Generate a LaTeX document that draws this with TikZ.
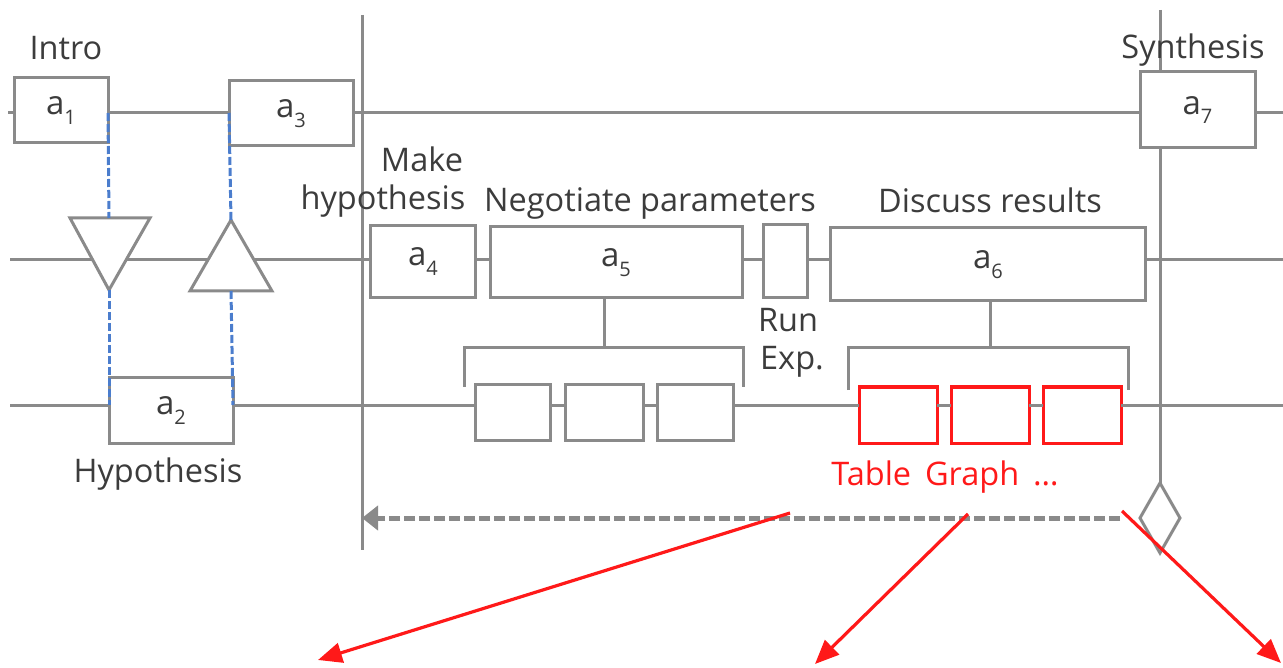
\documentclass[tikz,border=0pt]{standalone}
\usepackage{fontspec}
\setmainfont{Open Sans}
\usetikzlibrary{arrows.meta,shapes.geometric}
\definecolor{ln}{RGB}{138,138,138}
\definecolor{tx}{RGB}{60,60,60}
\definecolor{hl}{RGB}{255,25,25}
\definecolor{lk}{RGB}{75,125,205}
% activity label a_i
\newcommand\alab[1]{a\raisebox{-0.3em}{\fontsize{20}{20}\selectfont #1}}
\begin{document}
\begin{tikzpicture}[x=1pt,y=-1pt,
  every node/.style={inner sep=0pt, outer sep=0pt},
  line/.style={draw=ln, line width=3pt},
  wh/.style 2 args={minimum width=#1pt, minimum height=#2pt},
  box/.style={line, fill=white, text=tx, font=\fontsize{33}{33}\selectfont},
  redbox/.style={draw=hl, line width=3pt, fill=white},
  lbl/.style={anchor=base, text=tx, font=\fontsize{32.5}{32.5}\selectfont},
  link/.style={draw=lk, line width=3pt, dash pattern=on 8pt off 3pt},
  back/.style={draw=ln, line width=5pt, dash pattern=on 11pt off 4pt,
    -{Triangle[length=16pt,width=24pt]}},
  jump/.style={draw=hl, line width=3.2pt, -{Triangle[length=24pt,width=20pt]}},
]
\useasboundingbox (0,0) rectangle (1283,668);

% reference levels of the three lanes and the two phase bars
\coordinate (L1) at (0,113);
\coordinate (L2) at (0,260);
\coordinate (L3) at (0,405);
\coordinate (V1) at (362,15);
\coordinate (V1b) at (362,550);
\coordinate (V2) at (1160,10);

% boxes
\node[box, wh={94}{65}]  (a1) at (61,110.5) {\alab{1}};
\node[box, wh={124}{65}] (a3) at (291,113.5) {\alab{3}};
\node[box, wh={115}{76}] (a7) at (1197.5,110) {\alab{7}};
\node[box, wh={105}{72}] (a4) at (423,261.5) {\alab{4}};
\node[box, wh={252}{71}] (a5) at (616,262.5) {\alab{5}};
\node[box, wh={44}{73}]  (run) at (785,261.5) {};
\node[box, wh={315}{73}] (a6) at (988,264.5) {\alab{6}};
\node[box, wh={124}{65}] (a2) at (171,410.5) {\alab{2}};
\node[box, wh={75}{55}] (b1) at (512.5,412.5) {};
\node[box, wh={78}{55}] (b2) at (604,412.5) {};
\node[box, wh={76}{55}] (b3) at (695,412.5) {};
\node[redbox, wh={78}{56}] (r1) at (898,415) {};
\node[redbox, wh={78}{56}] (r2) at (990,415) {};
\node[redbox, wh={78}{56}] (r3) at (1082,415) {};
\node[diamond, line, fill=white, wh={40}{70}, aspect=0.57] (dia) at (1160,518) {};

% phase bars
\draw[line] (V1) -- (V1b);
\draw[line] (V2) -- (V2 |- a7.north);
\draw[line] (V2 |- a7.south) -- (dia.north);

% top lane
\draw[line] (8,113) -- (a1.west |- L1);
\draw[line] (a1.east |- L1) -- (a3.west |- L1);
\draw[line] (a3.east |- L1) -- (a7.west |- L1);
\draw[line] (a7.east |- L1) -- (1283,113);

% middle lane
\draw[line] (10,260) -- (a4.west |- L2);
\draw[line] (a4.east |- L2) -- (a5.west |- L2);
\draw[line] (a5.east |- L2) -- (run.west |- L2);
\draw[line] (run.east |- L2) -- (a6.west |- L2);
\draw[line] (a6.east |- L2) -- (1283,260);

% bottom lane
\draw[line] (10,405) -- (a2.west |- L3);
\draw[line] (a2.east |- L3) -- (b1.west |- L3);
\draw[line] (b1.east |- L3) -- (b2.west |- L3);
\draw[line] (b2.east |- L3) -- (b3.west |- L3);
\draw[line] (b3.east |- L3) -- (r1.west |- L3);
\draw[line] (r1.east |- L3) -- (r2.west |- L3);
\draw[line] (r2.east |- L3) -- (r3.west |- L3);
\draw[line] (r3.east |- L3) -- (1283,405);

% lane switches
\coordinate (dnTop) at (109,218);
\coordinate (dnTip) at (109,290);
\coordinate (upTip) at (231,220);
\coordinate (upBase) at (231,291);
\draw[line, fill=white, line join=miter] (70,218) -- (150,218) -- (dnTip) -- cycle;
\draw[line, fill=white, line join=miter] (upTip) -- (272,291) -- (190,291) -- cycle;
\draw[link] (a1.east |- L1) -- (dnTop);
\draw[link] (dnTip) -- (a2.west |- L3);
\draw[link] (a3.west |- L1) -- (upTip);
\draw[link] (upBase) -- (a2.east |- L3);

% decomposition brackets
\coordinate (k1l) at (464,387);
\coordinate (k1r) at (743,387);
\coordinate (k2l) at (848,390);
\coordinate (k2r) at (1128,390);
\draw[line] (a5.south -| b2.north) -- (b2.north |- 0,348);
\draw[line] (k1l) -- (k1l |- 0,348) -- (k1r |- 0,348) -- (k1r);
\draw[line] (a6.south -| r2.north) -- (r2.north |- 0,348);
\draw[line] (k2l) -- (k2l |- 0,348) -- (k2r |- 0,348) -- (k2r);

% loop back to the start of the cycle
\coordinate (ret) at (1120,518);
\draw[back] (ret) -- (V1 |- ret);

% results leading out
\coordinate (s1) at (790,513);
\coordinate (s2) at (968,514);
\coordinate (s3) at (1122,511);
\coordinate (e1) at (318,660);
\coordinate (e2) at (815,664);
\coordinate (e3) at (1281,663);
\draw[jump] (s1) -- (e1);
\draw[jump] (s2) -- (e2);
\draw[jump] (s3) -- (e3);

% labels
\node[lbl] (tIntro) at (66,60) {Intro};
\node[lbl] (tSyn) at (1193,59) {Synthesis};
\node[lbl] (tMake) at (422,172) {Make};
\node[lbl] (tHyp1) at (383,210) {hypothesis};
\node[lbl] (tNeg) at (650,212) {Negotiate parameters};
\node[lbl] (tDis) at (990,213) {Discuss results};
\node[lbl] (tRun) at (788,332) {Run};
\node[lbl] (tExp) at (792,370) {Exp.};
\node[lbl] (tHyp2) at (158,482) {Hypothesis};
\node[lbl, text=hl] (tTab) at (945,485) {Table\, Graph\, \dots};
\end{tikzpicture}
\end{document}
